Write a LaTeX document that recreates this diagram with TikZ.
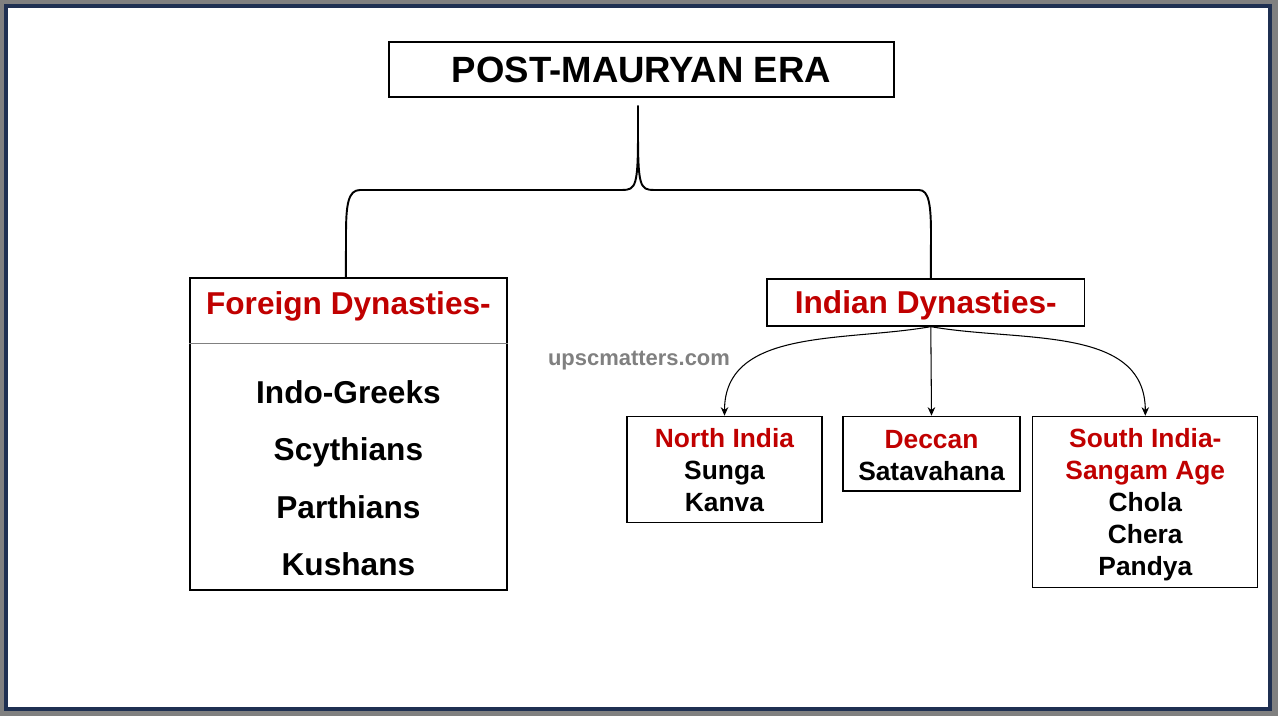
\documentclass[tikz,border=0pt]{standalone}
\usepackage{fontspec}
\setmainfont{Liberation Sans}
\usetikzlibrary{arrows.meta,calc}
\definecolor{headred}{RGB}{192,0,0}
\definecolor{framenavy}{RGB}{31,48,82}
\definecolor{framegray}{RGB}{128,128,128}
\tikzset{
    era box/.style = {
        draw,
        line width=0.75pt,
        minimum width=10.1cm,
        minimum height=1.1cm,
        font=\bfseries\fontsize{20.8}{25}\selectfont,
        },
    dyn box/.style = {
        draw,
        line width=0.75pt,
        inner sep=0pt,
        },
    dyn head/.style = {
        text=headred,
        font=\bfseries\fontsize{18}{22}\selectfont,
        },
    dyn item/.style = {
        anchor=base,
        font=\bfseries\fontsize{18}{22}\selectfont,
        },
    region box/.style = {
        draw,
        line width=0.75pt,
        align=center,
        anchor=north,
        inner sep=0pt,
        font=\bfseries\fontsize{15}{18.2}\selectfont,
        },
    site/.style = {
        anchor=base,
        text=framegray,
        font=\bfseries\fontsize{12.5}{15}\selectfont,
        },
    brace line/.style = {
        line width=1.1pt,
        },
    branch arrow/.style = {
        -{Stealth[length=1.7mm,width=1.5mm]},
        line width=0.6pt,
        },
}

\begin{document}
\begin{tikzpicture}[x=0.02cm,y=-0.02cm]
            \fill[framegray] (0,0) rectangle (1278,716);
            \draw[framenavy, line width=0.08cm, fill=white] (6.2,6.5) rectangle (1270,708.6);

            \node[era box] (era) at (641.5,69.5) {POST-MAURYAN ERA};

            \node[dyn box, minimum width=6.34cm, minimum height=6.24cm] (fbox) at (348.4,434) {};
            \node[dyn head, anchor=base] (fhead) at (348.4,315) {Foreign Dynasties-};
            \draw[framegray, line width=0.6pt] ($(fbox.north west)+(0,66)$) -- ($(fbox.north east)+(0,66)$);
            \foreach \dyn/\y [count=\i] in {Indo-Greeks/403, Scythians/460, Parthians/518, Kushans/575}
                \node[dyn item] (item\i) at (348.4,\y) {\dyn};

            \node[dyn box, dyn head, minimum width=6.35cm, minimum height=0.94cm,
                text height=13pt, text depth=0pt] (idyn) at (925.8,302.5) {Indian Dynasties-};
            \node[site] (site) at (639,365) {upscmatters.com};

            \node[region box, minimum width=3.9cm, minimum height=2.12cm] (north) at (724.5,415.7)
                {\rule{0pt}{12pt}\textcolor{headred}{North India}\\Sunga\\Kanva};
            \node[region box, minimum width=3.54cm, minimum height=1.49cm] (deccan) at (931.5,415.7)
                {\rule{0pt}{12pt}\textcolor{headred}{Deccan}\\Satavahana};
            \node[region box, minimum width=4.5cm, minimum height=3.42cm] (south) at (1145.3,415.7)
                {\rule{0pt}{14.3pt}\textcolor{headred}{South India-}\\\textcolor{headred}{Sangam Age}\\Chola\\Chera\\Pandya};

            \coordinate (stem) at ([xshift=-0.07cm,yshift=-0.16cm]era.south);
            \coordinate (isrc) at ([xshift=0.1cm]idyn.south);

            \draw[brace line] (stem) -- (638,132) .. controls (638,186) and (636,190) .. (622,190)
                -- (360,190) .. controls (348,190) and (346,205) .. (346,235) -- ([xshift=-0.05cm]fbox.north);
            \draw[brace line] (stem) -- (638,132) .. controls (638,186) and (640,190) .. (654,190)
                -- (919,190) .. controls (929,190) and (931,205) .. (931,235) -- (isrc |- idyn.north);

            \path[branch arrow] (isrc) edge[out=190, in=90] (north.north);
            \path[branch arrow] (isrc) edge (deccan.north);
            \path[branch arrow] (isrc) edge[out=-10, in=90] (south.north);
        \end{tikzpicture}
\end{document}
